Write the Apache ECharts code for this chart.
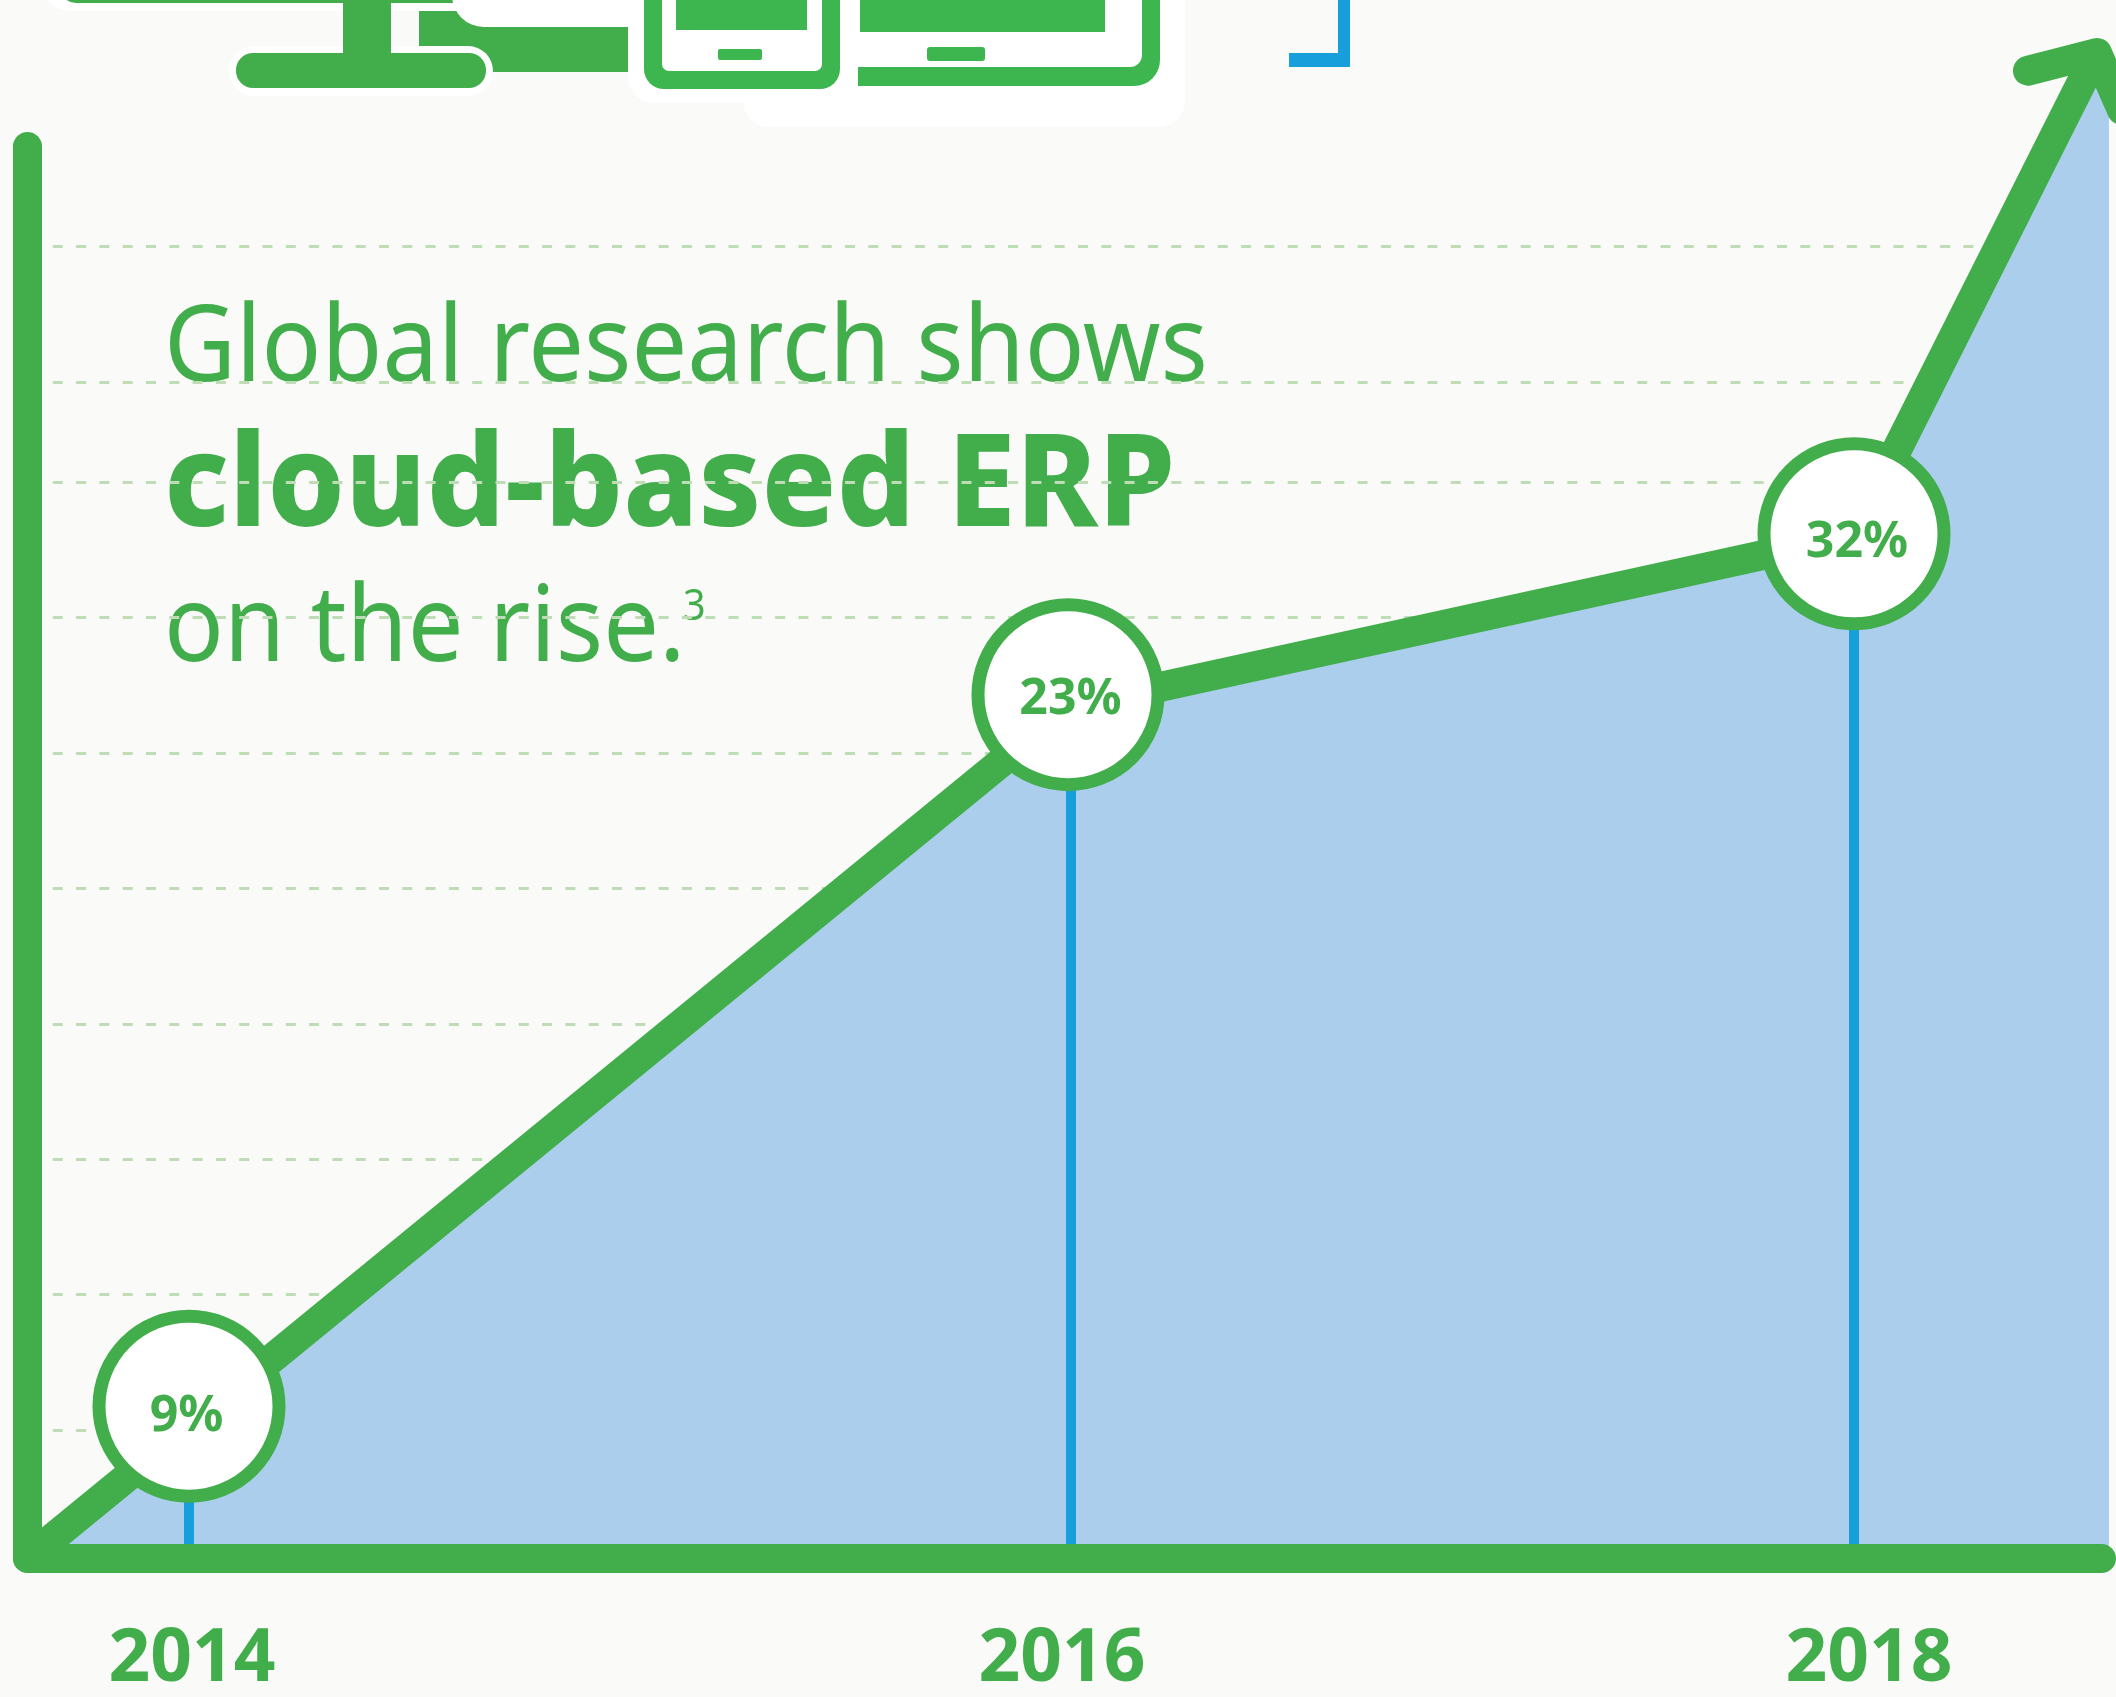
<!DOCTYPE html>
<html>
<head>
<meta charset="utf-8">
<title>cloud-based ERP</title>
<script src="https://cdn.jsdelivr.net/npm/echarts@6/dist/echarts.min.js"></script>
<style>
html, body { margin: 0; padding: 0; background: #fafaf8; }
#chart { width: 2116px; height: 1697px; }
</style>
</head>
<body>
<div id="chart"></div>
<script>
// values. the axes of the original are not to scale,
// so x and y are kept as plotted positions (y in gridline steps from the base)
var years = ['2014', '2016', '2018'];
var percents = [9, 23, 32];
var yearLabelX = [164.5, 1034.5, 1841.5];
var markerX = [161.5, 1040.5, 1826.5];
var markerY = [1.125, 6.381, 7.569];
var dropX = [161.5, 1043.5, 1826.5];
var trendX = [0, 1041.5, 1826.5, 2067.5];
var trendY = [0, 6.29, 7.56, 11.1];
var areaEndX = 2081.5;
var areaEndY = 10.8;
var arrowX = [2000.5, 2069.5, 2094.5];
var arrowY = [10.99, 11.12, 10.7];
var gridLevels = [0.95, 1.95, 2.95, 3.95, 4.95, 5.95, 6.95, 7.95, 8.69, 9.69];

var green = '#42ad4b';
var iconGreen = '#3db650';
var blue = '#179fdc';
var paper = '#fafaf8';

function pairs(xs, ys) {
    var out = [];
    for (var i = 0; i < xs.length; i++) {
        out.push([xs[i], ys[i]]);
    }
    return out;
}

//装饰图标,只是背景里的电脑、手机、平板
function box(x, y, w, h, r, fill) {
    return { type: 'rect', silent: true, shape: { x: x, y: y, width: w, height: h, r: r || 0 }, style: { fill: fill } };
}

var icons = [
    box(42, -40, 586, 51, [0, 0, 28, 28], '#ffffff'),
    box(60, -40, 568, 43, [0, 0, 16, 16], green),
    box(419, 11, 209, 61, 0, green),
    box(452, -40, 176, 67, [0, 0, 0, 32], '#ffffff'),
    box(229, 46, 264, 50, 25, '#ffffff'),
    box(343, 0, 48, 60, 0, green),
    box(236, 53, 250, 35, 17, green),
    box(743, 0, 442, 127, [0, 0, 26, 26], '#ffffff'),
    box(628, 0, 230, 103, [0, 0, 26, 26], '#ffffff'),
    box(644, -20, 196, 109, [0, 0, 20, 20], iconGreen),
    box(662, -20, 160, 91, [0, 0, 7, 7], '#ffffff'),
    box(676, -20, 131, 50, 0, iconGreen),
    box(718, 49, 44, 11, 2, iconGreen),
    box(858, -20, 302, 106, [0, 0, 26, 0], iconGreen),
    box(858, -20, 284, 87, [0, 0, 12, 0], '#ffffff'),
    box(860, -20, 245, 52, 0, iconGreen),
    box(927, 47, 58, 14, 3, iconGreen),
    box(1338, -20, 12, 87, 0, blue),
    box(1289, 53, 61, 14, 0, blue)
];

function headline(str, x, y, size, weight, sx) {
    return {
        type: 'text',
        silent: true,
        x: x,
        y: y,
        scaleX: sx,
        style: {
            text: str,
            fill: green,
            fontFamily: 'Noto Sans',
            fontSize: size,
            fontWeight: weight
        }
    };
}

var texts = [
    headline('Global research shows', 164, 298, 106, 400, 0.934),
    headline('cloud-based ERP', 164, 426, 128, 800, 0.965),
    headline('on the rise.', 164, 578, 106, 400, 0.934),
    headline('3', 683, 585, 44, 400, 0.9)
];

var labelOffsets = [[-2.5, 11], [2.5, 5], [3, 9]];

var chart = echarts.init(document.getElementById('chart'));

var option = {
    backgroundColor: paper,
    animation: false,
    // first grid holds gridlines and series, second one the thick frame on top
    grid: [
        { left: 27.5, right: 7, top: 146.5, bottom: 138.5 },
        { left: 27.5, right: 14.5, top: 146.5, bottom: 138.5 }
    ],
    xAxis: [
        {
            type: 'value',
            gridIndex: 0,
            min: 0,
            max: 2081.5,
            splitLine: { show: false },
            axisLine: { show: false },
            axisTick: { show: false },
            axisLabel: { show: false }
        },
        {
            type: 'value',
            gridIndex: 1,
            z: 10,
            min: 0,
            max: 2074,
            splitLine: { show: false },
            axisLine: { show: true, onZero: false, lineStyle: { color: green, width: 29, cap: 'round' } },
            axisTick: { show: false, customValues: yearLabelX },
            axisLabel: {
                customValues: yearLabelX,
                margin: 66,
                color: green,
                fontFamily: 'Noto Sans',
                fontSize: 73,
                fontWeight: 700,
                formatter: function (v) {
                    return years[yearLabelX.indexOf(v)];
                }
            }
        }
    ],
    yAxis: [
        {
            type: 'value',
            gridIndex: 0,
            min: 0,
            max: 10.43,
            axisLine: { show: false },
            axisTick: { show: false, customValues: gridLevels },
            axisLabel: { show: false },
            splitLine: { show: true, lineStyle: { color: '#bfdcb6', width: 3, type: [10, 13.3], dashOffset: -2 } }
        },
        {
            type: 'value',
            gridIndex: 1,
            z: 10,
            min: 0,
            max: 10.43,
            axisLine: { show: true, onZero: false, lineStyle: { color: green, width: 29, cap: 'round' } },
            axisTick: { show: false },
            axisLabel: { show: false },
            splitLine: { show: false }
        }
    ],
    series: [
        {
            name: 'area',
            type: 'line',
            clip: false,
            z: 2,
            symbol: 'none',
            lineStyle: { width: 0 },
            areaStyle: { color: '#abceec', opacity: 1 },
            data: pairs(trendX, trendY).concat([[areaEndX, areaEndY]])
        },
        {
            name: 'drop',
            type: 'bar',
            z: 3,
            barWidth: 10,
            itemStyle: { color: blue },
            data: pairs(dropX, markerY)
        },
        {
            name: 'trend',
            type: 'line',
            clip: false,
            z: 4,
            symbol: 'none',
            lineStyle: { color: green, width: 30, join: 'miter' },
            data: pairs(trendX, trendY)
        },
        {
            name: 'arrow',
            type: 'line',
            clip: false,
            z: 4,
            symbol: 'none',
            lineStyle: { color: green, width: 30, cap: 'round', join: 'round' },
            data: pairs(arrowX, arrowY)
        },
        {
            name: 'share',
            type: 'scatter',
            clip: false,
            z: 5,
            symbol: 'circle',
            symbolSize: 180,
            itemStyle: { color: '#ffffff', borderColor: green, borderWidth: 13, opacity: 1 },
            label: {
                show: true,
                position: 'inside',
                color: green,
                fontFamily: 'Noto Sans',
                fontSize: 50,
                fontWeight: 700,
                formatter: function (p) {
                    return percents[p.dataIndex] + '%';
                }
            },
            data: pairs(markerX, markerY).map(function (d, i) {
                return { value: d, label: { offset: labelOffsets[i] } };
            })
        }
    ],
    graphic: icons.concat(texts)
};

chart.setOption(option);

window.onresize = function () {
    chart.resize();
};
</script>
</body>
</html>
